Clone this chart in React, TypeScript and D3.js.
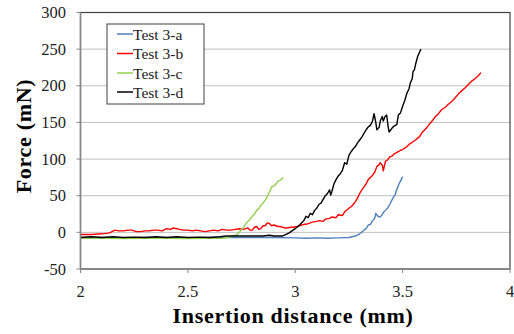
import React from "react";
import * as d3 from "d3";

const xTicks = [2, 2.5, 3, 3.5, 4];
const yTicks = [-50, 0, 50, 100, 150, 200, 250, 300];

const seriesNames = ["Test 3-a", "Test 3-b", "Test 3-c", "Test 3-d"];
const seriesColors = ["#4F81BD", "#FF0000", "#92D050", "#000000"];

const aX = [2.0, 2.1, 2.2, 2.3, 2.4, 2.5, 2.6, 2.7, 2.8, 2.9, 3.0, 3.05, 3.1, 3.15, 3.2, 3.25, 3.28, 3.3, 3.32, 3.33, 3.34, 3.35, 3.36, 3.37, 3.375, 3.385, 3.395, 3.405, 3.41, 3.42, 3.43, 3.44, 3.455, 3.465, 3.47, 3.483, 3.49, 3.5];
const aY = [-7, -7, -7.5, -7, -7, -7.5, -7, -7, -7, -7, -7.5, -8, -7.5, -8, -7.5, -7, -5, -2, 3, 5, 10, 11, 16, 19, 26, 22, 21, 24, 27, 30, 33, 38, 47, 51, 56, 66, 70, 76];

const bX = [2.0, 2.05, 2.1, 2.13, 2.14, 2.16, 2.18, 2.2, 2.22, 2.24, 2.26, 2.28, 2.3, 2.32, 2.34, 2.36, 2.38, 2.4, 2.42, 2.43, 2.45, 2.46, 2.48, 2.5, 2.52, 2.54, 2.56, 2.58, 2.6, 2.62, 2.64, 2.66, 2.68, 2.7, 2.72, 2.74, 2.76, 2.78, 2.79, 2.8, 2.81, 2.82, 2.83, 2.84, 2.85, 2.86, 2.87, 2.88, 2.89, 2.9, 2.92, 2.93, 2.95, 2.96, 2.98, 2.99, 3.01, 3.02, 3.04, 3.05, 3.07, 3.08, 3.1, 3.11, 3.13, 3.14, 3.16, 3.17, 3.19, 3.2, 3.22, 3.23, 3.25, 3.26, 3.27, 3.28, 3.29, 3.3, 3.31, 3.32, 3.33, 3.34, 3.35, 3.36, 3.37, 3.38, 3.39, 3.395, 3.405, 3.41, 3.42, 3.43, 3.44, 3.45, 3.46, 3.48, 3.49, 3.5, 3.52, 3.53, 3.55, 3.56, 3.58, 3.59, 3.61, 3.62, 3.64, 3.65, 3.67, 3.68, 3.7, 3.71, 3.73, 3.74, 3.76, 3.77, 3.79, 3.8, 3.82, 3.83, 3.85, 3.865];
const bY = [-3, -3, -2, -1, 0, 3, 2, 2, 3, 3, 1, 1, 2, 2, 3, 3, 2, 5, 4, 6, 5, 4, 3, 3, 2, 3, 2, 1, 2, 3, 2, 4, 3, 3, 4, 5, 4, 6, 3, 3, 7, 8, 4, 5, 9, 9, 13, 12, 9, 10, 8, 8, 6, 6, 7, 7, 8, 9, 11, 11, 13, 14, 15, 16, 15, 18, 19, 21, 20, 24, 23, 28, 33, 35, 38, 42, 47, 53, 58, 62, 66, 72, 75, 78, 82, 90, 92, 95, 92, 84, 97, 99, 103, 104, 107, 110, 112, 113, 117, 120, 124, 126, 131, 136, 142, 146, 153, 157, 163, 167, 171, 174, 179, 182, 189, 192, 197, 200, 206, 208, 213, 218];

const cX = [2.0, 2.1, 2.2, 2.3, 2.4, 2.5, 2.6, 2.66, 2.7, 2.73, 2.75, 2.76, 2.77, 2.79, 2.8, 2.81, 2.82, 2.83, 2.84, 2.85, 2.86, 2.87, 2.88, 2.89, 2.9, 2.91, 2.92, 2.93, 2.945];
const cY = [-8, -8, -8.5, -8, -8, -8.5, -8, -8, -6, -3, 4, 7, 12, 18, 22, 25, 30, 32, 37, 40, 44, 49, 55, 62, 63, 66, 70, 71, 75];

const dX = [2.0, 2.05, 2.1, 2.15, 2.2, 2.25, 2.3, 2.35, 2.4, 2.45, 2.5, 2.55, 2.6, 2.65, 2.68, 2.75, 2.8, 2.85, 2.88, 2.9, 2.94, 2.97, 3.0, 3.02, 3.03, 3.04, 3.05, 3.06, 3.07, 3.08, 3.09, 3.1, 3.11, 3.12, 3.13, 3.14, 3.15, 3.16, 3.165, 3.17, 3.18, 3.19, 3.2, 3.21, 3.22, 3.23, 3.24, 3.25, 3.26, 3.27, 3.28, 3.29, 3.3, 3.31, 3.32, 3.33, 3.34, 3.35, 3.36, 3.367, 3.375, 3.38, 3.39, 3.397, 3.405, 3.41, 3.418, 3.426, 3.432, 3.437, 3.445, 3.45, 3.46, 3.473, 3.48, 3.49, 3.5, 3.51, 3.52, 3.53, 3.535, 3.545, 3.548, 3.555, 3.56, 3.57, 3.585];
const dY = [-7, -6, -7, -6, -7, -6.5, -7, -6, -7, -6, -7, -6.5, -7, -6, -5, -5, -5, -5, -4, -5, -5, -1, 5, 10, 13, 16, 22, 20, 26, 24, 30, 33, 38, 40, 45, 50, 53, 58, 51, 55, 66, 72, 77, 80, 85, 95, 93, 105, 110, 114, 117, 122, 126, 130, 135, 140, 144, 146, 152, 162, 150, 140, 143, 153, 158, 152, 158, 160, 145, 137, 140, 142, 145, 147, 160, 163, 172, 180, 190, 196, 203, 210, 219, 222, 229, 240, 250];

const seriesX = [aX, bX, cX, dX];
const seriesY = [aY, bY, cY, dY];

export default function App() {
  const W = 514, H = 334;
  const x = d3.scaleLinear().domain([2, 4]).range([80.5, 510]);
  const y = d3.scaleLinear().domain([-50, 300]).range([269, 12.5]);
  const line = d3.line<[number, number]>().x(d => x(d[0])).y(d => y(d[1]));
  const font = "Liberation Serif, Times New Roman, serif";
  const legendY = [34, 53.5, 73, 92];

  return (
    <svg width={W} height={H} style={{ position: "absolute", left: 0, top: 0, background: "#fff" }} fontFamily={font}>
      {yTicks.filter(t => t > -50 && t < 300).map(t => (
        <line key={"g" + t} x1={x(2)} x2={x(4)} y1={y(t)} y2={y(t)} stroke="#C0C0C0" strokeWidth={1} />
      ))}
      {seriesX.map((xs, i) => (
        <path key={"s" + i} d={line(xs.map((v, j) => [v, seriesY[i][j]] as [number, number])) || ""}
          fill="none" stroke={seriesColors[i]} strokeWidth={1.4} strokeLinejoin="round" />
      ))}
      <rect x={x(2)} y={y(300)} width={x(4) - x(2)} height={y(-50) - y(300)} fill="none" stroke="#404040" strokeWidth={1.2} />
      <line x1={x(2)} x2={x(4)} y1={y(-50)} y2={y(-50)} stroke="#868686" strokeWidth={1.5} />
      <line x1={x(2)} x2={x(2)} y1={y(-50)} y2={y(300)} stroke="#868686" strokeWidth={1.5} />
      {yTicks.map(t => (
        <g key={"y" + t}>
          <line x1={x(2) - 4} x2={x(2)} y1={y(t)} y2={y(t)} stroke="#868686" />
          <text x={66} y={y(t) + 5.5} textAnchor="end" fontSize={16.5} fill="#222">{t}</text>
        </g>
      ))}
      {xTicks.map(t => (
        <g key={"x" + t}>
          <line x1={x(t)} x2={x(t)} y1={y(-50)} y2={y(-50) + 4} stroke="#868686" />
          <text x={x(t)} y={297} textAnchor="middle" fontSize={16.5} fill="#222">{t}</text>
        </g>
      ))}
      <text x={293} y={323} textAnchor="middle" fontSize={22} fontWeight="bold" letterSpacing={0.7} fill="#000">Insertion distance (mm)</text>
      <text transform={`translate(31,136) rotate(-90)`} textAnchor="middle" fontSize={22} fontWeight="bold" letterSpacing={0.7} fill="#000">Force (mN)</text>
      <rect x={107} y={24} width={97} height={80} fill="#fff" stroke="#404040" strokeWidth={1} />
      {seriesNames.map((n, i) => (
        <g key={"l" + i}>
          <line x1={117} x2={133} y1={legendY[i]} y2={legendY[i]} stroke={seriesColors[i]} strokeWidth={1.5} />
          <text x={133} y={legendY[i] + 5.5} fontSize={15.5} fill="#222">{n}</text>
        </g>
      ))}
    </svg>
  );
}
